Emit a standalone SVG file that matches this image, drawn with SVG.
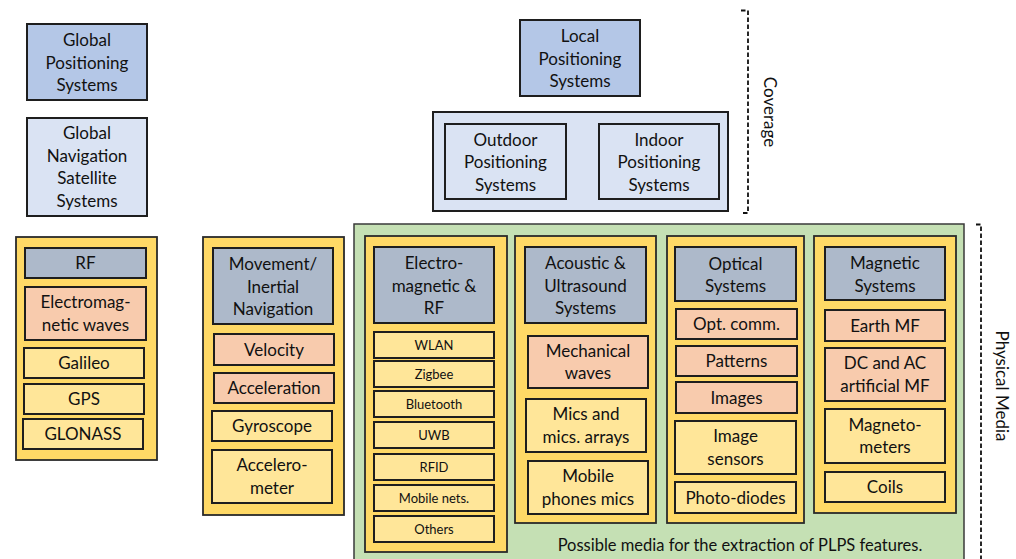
<svg xmlns="http://www.w3.org/2000/svg" width="1016" height="559" viewBox="0 0 1016 559">
<style>
rect{stroke:#1e1e1e;stroke-width:2}
.gb{fill:#b4c7e7}
.lb{fill:#dae3f3}
.hd{fill:#adb9ca}
.sa{fill:#f8cbad}
.ly{fill:#ffe699}
.col{fill:#ffd966;stroke:#2a2a2a;stroke-width:1.8}
.grn{fill:#c5e0b4;stroke:#3a3a3a;stroke-width:1.5}
text{font-family:Lato,"Liberation Sans",sans-serif;font-size:17px;fill:#111;text-anchor:middle}
.sm{font-size:13px}
.cap{font-size:16.5px}
.rot{font-size:17px}
.br{fill:none;stroke:#111;stroke-width:1.8;stroke-dasharray:4.5 2.5}
</style>
<g id="global-positioning"><rect class="gb" x="27" y="24" width="120" height="76"/><text x="87" y="46">Global<tspan x="87" dy="22.5">Positioning</tspan><tspan x="87" dy="22.5">Systems</tspan></text></g>
<g id="gnss"><rect class="lb" x="27" y="118" width="120" height="98"/><text x="87" y="139">Global<tspan x="87" dy="22.5">Navigation</tspan><tspan x="87" dy="22.5">Satellite</tspan><tspan x="87" dy="22.5">Systems</tspan></text></g>
<g id="local-positioning"><rect class="gb" x="520" y="20" width="120" height="76"/><text x="580" y="42">Local<tspan x="580" dy="22.5">Positioning</tspan><tspan x="580" dy="22.5">Systems</tspan></text></g>
<g id="local-group"><rect class="lb" x="433" y="112" width="295" height="99"/>
<g id="outdoor"><rect class="lb" x="445" y="124" width="121" height="75"/><text x="505.5" y="145.5">Outdoor<tspan x="505.5" dy="22.5">Positioning</tspan><tspan x="505.5" dy="22.5">Systems</tspan></text></g>
<g id="indoor"><rect class="lb" x="599" y="124" width="120" height="75"/><text x="659" y="145.5">Indoor<tspan x="659" dy="22.5">Positioning</tspan><tspan x="659" dy="22.5">Systems</tspan></text></g>
</g>

<g id="gnss-column"><rect class="col" x="16" y="237" width="141" height="223"/>
<g id="rf"><rect class="hd" x="25" y="248" width="121" height="30"/><text x="85.5" y="269">RF</text></g>
<g id="em-waves"><rect class="sa" x="25" y="287" width="121" height="53"/><text x="85.5" y="308">Electromag-<tspan x="85.5" dy="22.5">netic waves</tspan></text></g>
<g id="galileo"><rect class="ly" x="24" y="348" width="120" height="30"/><text x="84" y="369">Galileo</text></g>
<g id="gps"><rect class="ly" x="24" y="384" width="120" height="30"/><text x="84" y="405">GPS</text></g>
<g id="glonass"><rect class="ly" x="23" y="419" width="120" height="30"/><text x="83" y="440">GLONASS</text></g>
</g>

<g id="movement-column"><rect class="col" x="203" y="237" width="141" height="278"/>
<g id="movement"><rect class="hd" x="213" y="248" width="120" height="76"/><text x="273" y="270">Movement/<tspan x="273" dy="22.5">Inertial</tspan><tspan x="273" dy="22.5">Navigation</tspan></text></g>
<g id="velocity"><rect class="sa" x="214" y="334" width="120" height="31"/><text x="274" y="355.5">Velocity</text></g>
<g id="acceleration"><rect class="sa" x="214" y="373" width="120" height="30"/><text x="274" y="394">Acceleration</text></g>
<g id="gyroscope"><rect class="ly" x="212" y="411" width="120" height="30"/><text x="272" y="432">Gyroscope</text></g>
<g id="accelerometer"><rect class="ly" x="212" y="450" width="120" height="53"/><text x="272" y="471">Accelero-<tspan x="272" dy="22.5">meter</tspan></text></g>
</g>

<g id="physical-media"><rect class="grn" x="354" y="224" width="610" height="345"/>
<text class="cap" x="740" y="551">Possible media for the extraction of PLPS features.</text>
</g>

<g id="em-rf-column"><rect class="col" x="365" y="236" width="142" height="316"/>
<g id="em-rf"><rect class="hd" x="374" y="247" width="120" height="76"/><text x="434" y="269">Electro-<tspan x="434" dy="22.5">magnetic &amp;</tspan><tspan x="434" dy="22.5">RF</tspan></text></g>
<g id="wlan"><rect class="ly" x="374" y="332" width="120" height="26"/><text class="sm" x="434" y="349.5">WLAN</text></g>
<g id="zigbee"><rect class="ly" x="374" y="361" width="120" height="26"/><text class="sm" x="434" y="378.5">Zigbee</text></g>
<g id="bluetooth"><rect class="ly" x="374" y="391" width="120" height="26"/><text class="sm" x="434" y="408.5">Bluetooth</text></g>
<g id="uwb"><rect class="ly" x="374" y="422" width="120" height="26"/><text class="sm" x="434" y="439.5">UWB</text></g>
<g id="rfid"><rect class="ly" x="374" y="454" width="120" height="26"/><text class="sm" x="434" y="471.5">RFID</text></g>
<g id="mobile-nets"><rect class="ly" x="374" y="485" width="120" height="26"/><text class="sm" x="434" y="502.5">Mobile nets.</text></g>
<g id="others"><rect class="ly" x="374" y="516" width="120" height="26"/><text class="sm" x="434" y="533.5">Others</text></g>
</g>

<g id="acoustic-column"><rect class="col" x="515" y="236" width="141" height="287"/>
<g id="acoustic"><rect class="hd" x="525" y="247" width="121" height="76"/><text x="585.5" y="269">Acoustic &amp;<tspan x="585.5" dy="22.5">Ultrasound</tspan><tspan x="585.5" dy="22.5">Systems</tspan></text></g>
<g id="mech-waves"><rect class="sa" x="528" y="336" width="120" height="52"/><text x="588" y="356.5">Mechanical<tspan x="588" dy="22.5">waves</tspan></text></g>
<g id="mics"><rect class="ly" x="526" y="399" width="120" height="53"/><text x="586" y="420">Mics and<tspan x="586" dy="22.5">mics. arrays</tspan></text></g>
<g id="phone-mics"><rect class="ly" x="528" y="461" width="120" height="53"/><text x="588" y="482">Mobile<tspan x="588" dy="22.5">phones mics</tspan></text></g>
</g>

<g id="optical-column"><rect class="col" x="667" y="236" width="137" height="287"/>
<g id="optical"><rect class="hd" x="675" y="247" width="121" height="54"/><text x="735.5" y="269.5">Optical<tspan x="735.5" dy="22.5">Systems</tspan></text></g>
<g id="opt-comm"><rect class="sa" x="676" y="309" width="121" height="30"/><text x="736.5" y="330">Opt. comm.</text></g>
<g id="patterns"><rect class="sa" x="676" y="346" width="121" height="30"/><text x="736.5" y="367">Patterns</text></g>
<g id="images"><rect class="sa" x="676" y="382" width="121" height="31"/><text x="736.5" y="403.5">Images</text></g>
<g id="image-sensors"><rect class="ly" x="675" y="421" width="121" height="53"/><text x="735.5" y="442">Image<tspan x="735.5" dy="22.5">sensors</tspan></text></g>
<g id="photo-diodes"><rect class="ly" x="675" y="482" width="121" height="31"/><text x="735.5" y="503.5">Photo-diodes</text></g>
</g>

<g id="magnetic-column"><rect class="col" x="814" y="236" width="142" height="277"/>
<g id="magnetic"><rect class="hd" x="825" y="247" width="120" height="53"/><text x="885" y="269">Magnetic<tspan x="885" dy="22.5">Systems</tspan></text></g>
<g id="earth-mf"><rect class="sa" x="825" y="310" width="120" height="31"/><text x="885" y="331.5">Earth MF</text></g>
<g id="dc-ac-mf"><rect class="sa" x="825" y="348" width="120" height="53"/><text x="885" y="369">DC and AC<tspan x="885" dy="22.5">artificial MF</tspan></text></g>
<g id="magnetometers"><rect class="ly" x="825" y="409" width="120" height="54"/><text x="885" y="430.5">Magneto-<tspan x="885" dy="22.5">meters</tspan></text></g>
<g id="coils"><rect class="ly" x="825" y="472" width="120" height="30"/><text x="885" y="493">Coils</text></g>
</g>

<g id="connectors">
<path class="br" d="M741,10.5 H748 V213 H741"/>
<path class="br" d="M976,224.5 H981 V560"/>
<text class="rot" transform="translate(764,112) rotate(90)">Coverage</text>
<text class="rot" transform="translate(996,386) rotate(90)">Physical Media</text>
</g>
</svg>
